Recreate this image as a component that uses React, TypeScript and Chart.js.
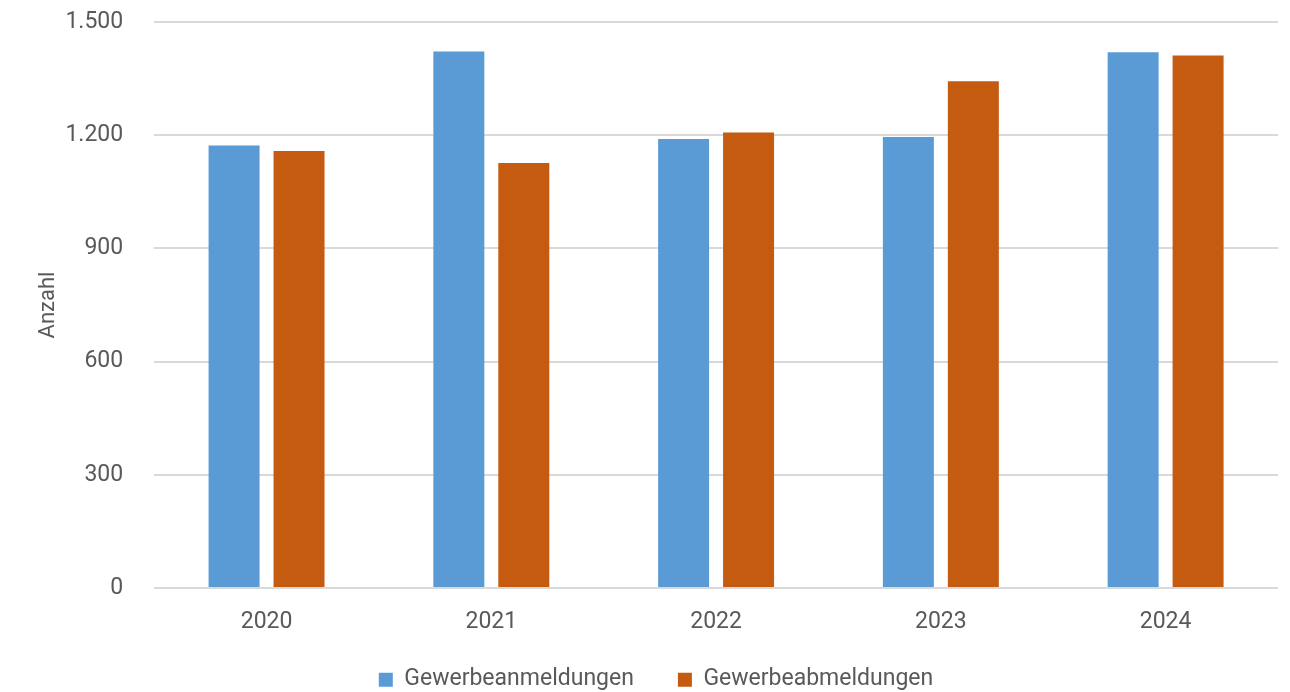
import React, { useEffect, useRef } from "react";
import { Chart, registerables } from "chart.js";

Chart.register(...registerables);

const categories = ["2020", "2021", "2022", "2023", "2024"];
const anmeldungen = [1173, 1422, 1190, 1195, 1420];
const abmeldungen = [1158, 1126, 1207, 1343, 1411];
const seriesNames = ["Gewerbeanmeldungen", "Gewerbeabmeldungen"];
const yTitle = "Anzahl";
const yTicksMax = 1500;
const yTicksStep = 300;

const TEXT = "#595959";
const FONT = "Roboto";
const LEGEND_HEIGHT = 36;
const LEGEND_SHIFT = 31.8;

function fmt(v: number): string {
  const s = Math.round(v).toString();
  return s.replace(/\B(?=(\d{3})+(?!\d))/g, ".");
}

const legendSizer = {
  id: "legendSizer",
  afterInit(chart: any) {
    const lg = chart.legend;
    if (!lg) return;
    const orig = lg.fit.bind(lg);
    lg.fit = function () {
      orig();
      lg.height = LEGEND_HEIGHT;
    };
  },
  afterLayout(chart: any) {
    const lg = chart.legend;
    if (!lg) return;
    lg.top -= LEGEND_SHIFT;
  },
};

export default function App() {
  const ref = useRef<HTMLCanvasElement | null>(null);

  useEffect(() => {
    document.body.style.margin = "0";
    const ctx = ref.current!.getContext("2d")!;
    const chart = new Chart(ctx, {
      type: "bar",
      data: {
        labels: categories,
        datasets: [
          {
            label: seriesNames[0],
            data: anmeldungen,
            backgroundColor: "#5B9BD5",
            categoryPercentage: 0.578,
            barPercentage: 0.785,
          },
          {
            label: seriesNames[1],
            data: abmeldungen,
            backgroundColor: "#C55A11",
            categoryPercentage: 0.578,
            barPercentage: 0.785,
          },
        ],
      },
      plugins: [legendSizer],
      options: {
        responsive: true,
        maintainAspectRatio: false,
        animation: false,
        layout: { padding: { left: 34, right: 12, top: 22, bottom: 0 } },
        plugins: {
          tooltip: { enabled: false },
          legend: {
            position: "bottom",
            labels: {
              color: TEXT,
              font: { family: FONT, size: 23 },
              boxWidth: 14,
              boxHeight: 14,
              padding: 44,
            },
          },
        },
        scales: {
          x: {
            grid: { display: false, drawTicks: false },
            border: { display: false },
            ticks: {
              color: TEXT,
              font: { family: FONT, size: 23 },
              padding: 20.2,
            },
          },
          y: {
            min: 0,
            max: yTicksMax,
            grid: {
              color: "#d9d9d9",
              lineWidth: 2,
              drawTicks: true,
              tickLength: 28,
              tickColor: "rgba(0,0,0,0)",
            },
            border: { display: false },
            ticks: {
              stepSize: yTicksStep,
              color: TEXT,
              font: { family: FONT, size: 23 },
              padding: 3,
              callback: (v: any) => fmt(Number(v)),
            },
            title: {
              display: true,
              text: yTitle,
              color: TEXT,
              font: { family: FONT, size: 22 },
              padding: { top: 1, bottom: 1 },
            },
          },
        },
      },
    });
    return () => chart.destroy();
  }, []);

  return (
    <div style={{ position: "relative", width: "1290px", height: "692px" }}>
      <canvas ref={ref} />
    </div>
  );
}
